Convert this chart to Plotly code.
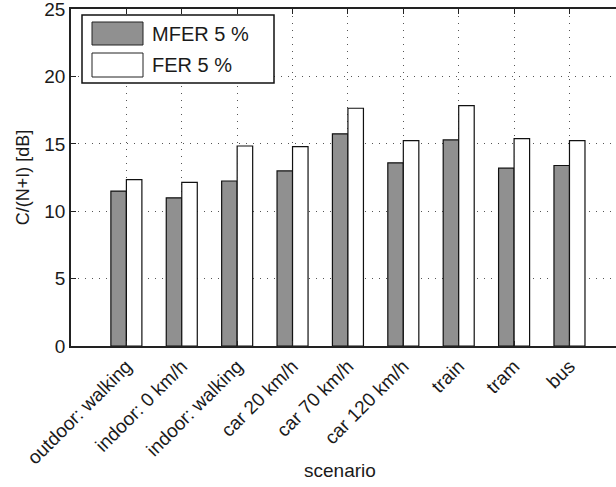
import plotly.graph_objects as go

categories = ["outdoor: walking", "indoor: 0 km/h", "indoor: walking", "car 20 km/h",
              "car 70 km/h", "car 120 km/h", "train", "tram", "bus"]
mfer_5 = [11.5, 11.0, 12.25, 13.0, 15.75, 13.6, 15.3, 13.2, 13.4]
fer_5 = [12.35, 12.15, 14.85, 14.8, 17.65, 15.25, 17.85, 15.4, 15.25]
series_names = ["MFER 5 %", "FER 5 %"]
series_colors = ["#909090", "#ffffff"]
y_ticks = [0, 5, 10, 15, 20, 25]

xpos = list(range(1, len(categories) + 1))
FONT = "Liberation Sans"

fig = go.Figure()
for name, vals, col in zip(series_names, [mfer_5, fer_5], series_colors):
    fig.add_trace(go.Bar(x=xpos, y=vals, name=name, marker_color=col,
                         marker_line_color="#111111", marker_line_width=1.2,
                         showlegend=False))

W, H = 616, 487
ml, mr, mt, mb = 71, 0, 9, 141
pw = W - ml - mr
ph = H - mt - mb

def px2x(px):
    return (px - ml) / pw

def py2y(py):
    return (H - mb - py) / ph

fig.update_layout(
    width=W, height=H,
    margin=dict(l=ml, r=mr, t=mt, b=mb),
    paper_bgcolor="white", plot_bgcolor="white",
    barmode="group", bargap=0.44, bargroupgap=0.0,
    font=dict(family=FONT, size=18, color="#1a1a1a"),
    showlegend=False,
)
fig.update_xaxes(
    range=[0, 9.84], tickmode="array", tickvals=xpos, ticktext=categories,
    tickangle=-45, ticks="inside", ticklen=5, tickcolor="#222222",
    showline=True, linecolor="#222222", linewidth=1.5, mirror="ticks",
    showgrid=True, gridcolor="#555555", griddash="1px,6px", gridwidth=1,
    zeroline=False, tickfont=dict(size=19, family=FONT),
)
fig.update_yaxes(
    range=[0, 25.02], tickmode="array", tickvals=y_ticks, ticktext=[str(v) for v in y_ticks],
    ticks="inside", ticklen=5, tickcolor="#222222", ticklabeloverflow="allow",
    showline=True, linecolor="#222222", linewidth=1.5,
    showgrid=True, gridcolor="#555555", griddash="1px,6px", gridwidth=1,
    zeroline=False, tickfont=dict(size=19, family=FONT),
    title=dict(text="C/(N+I) [dB]", font=dict(size=18, family=FONT), standoff=10),
)

# Custom legend box with large swatches
shapes = [dict(type="rect", xref="paper", yref="paper",
               x0=px2x(82), x1=px2x(274), y0=py2y(83), y1=py2y(15),
               line=dict(color="#111111", width=1.5), fillcolor="white", layer="above")]
annotations = []
sw_y = [(22, 45), (53, 77)]
for (y0, y1), name, col in zip(sw_y, series_names, series_colors):
    shapes.append(dict(type="rect", xref="paper", yref="paper",
                       x0=px2x(92), x1=px2x(143), y0=py2y(y1), y1=py2y(y0),
                       line=dict(color="#222222", width=1), fillcolor=col, layer="above"))
    annotations.append(dict(xref="paper", yref="paper", x=px2x(150), y=py2y((y0 + y1) / 2),
                            text=name, showarrow=False, xanchor="left", yanchor="middle",
                            font=dict(size=20, family=FONT, color="#1a1a1a")))
annotations.append(dict(xref="paper", yref="paper", x=px2x(340), y=py2y(470),
                        text="scenario", showarrow=False, xanchor="center", yanchor="middle",
                        font=dict(size=19, family=FONT, color="#1a1a1a")))
fig.update_layout(shapes=shapes, annotations=annotations)

fig.write_html("out.html")
